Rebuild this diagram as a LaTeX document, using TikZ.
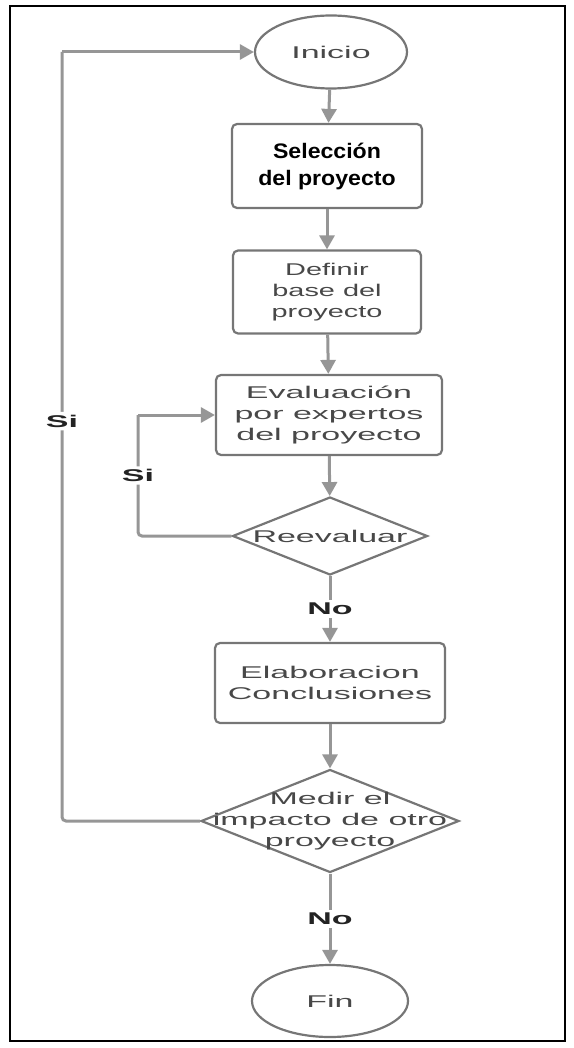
\documentclass[tikz,border=0pt]{standalone}
\usepackage{fontspec}
\setmainfont{Liberation Sans}
\newfontfamily\widesans[FakeStretch=2.0]{Liberation Sans}
\newfontfamily\midsans[FakeStretch=1.7]{Liberation Sans}
\newfontfamily\titlesans[FakeStretch=1.1]{Liberation Sans}
\usetikzlibrary{shapes.geometric,arrows.meta}
\definecolor{linegray}{RGB}{150,150,150}
\definecolor{edgegray}{RGB}{118,118,118}
\definecolor{txtgray}{RGB}{72,72,72}
\definecolor{lblgray}{RGB}{35,35,35}
\begin{document}
\begin{tikzpicture}[x=1pt,y=-1pt,
  every node/.style={font=\widesans\fontsize{17}{21}\selectfont, text=txtgray},
  terminal/.style={ellipse, draw=edgegray, line width=2.2pt, minimum width=152pt, minimum height=73pt, inner sep=0pt},
  process/.style={rectangle, rounded corners=5pt, draw=edgegray, line width=2.2pt, minimum width=190pt, minimum height=84pt, align=center, inner sep=0pt},
  decision/.style={diamond, draw=edgegray, line width=2.2pt, inner sep=0pt},
  flow/.style={draw=linegray, line width=3pt, -{Triangle[length=14pt,width=15pt]}},
  link/.style={draw=linegray, line width=3pt, rounded corners=4pt},
  lbl/.style={fill=white, text=lblgray, inner sep=3pt, font=\widesans\bfseries\fontsize{17}{21}\selectfont}
]
\useasboundingbox (0,0) rectangle (573,1048);
% outer frame
\draw[line width=2.2pt] (10,6) rectangle (565,1041);

% steps of the flow
\node[terminal] (inicio) at (331,52) {Inicio};
\node[process, minimum width=190pt, minimum height=84pt,
      font=\titlesans\bfseries\fontsize{21}{27}\selectfont, text=black] (seleccion) at (327,166) {Selección\\del proyecto};
\node[process, minimum width=188pt, minimum height=83pt,
      font=\midsans\fontsize{17}{21}\selectfont] (definir) at (327,292) {Definir\\base del\\proyecto};
\node[process, minimum width=226pt, minimum height=80pt] (evaluacion) at (329,415) {Evaluación\\por expertos\\del proyecto};
\node[decision, minimum width=195pt, minimum height=78pt] (reevaluar) at (330,536) {};
\node (reevaluartxt) at (reevaluar.center) {Reevaluar};
\node[process, minimum width=230pt, minimum height=80pt] (elaboracion) at (330,683) {Elaboracion\\Conclusiones};
\node[decision, minimum width=258pt, minimum height=103pt] (medir) at (330,821) {};
\node[align=center] (medirtxt) at (medir.center) {Medir el\\impacto de otro\\proyecto};
\node[terminal, minimum width=156pt, minimum height=72pt] (fin) at (330,1001) {Fin};

% main sequence
\draw[flow] (inicio) -- (seleccion);
\draw[flow] (seleccion) -- (definir);
\draw[flow] (definir) -- (evaluacion);
\draw[flow] (evaluacion) -- (reevaluar);
\draw[flow] (reevaluar) -- node[lbl] (no1) {No} (elaboracion);
\draw[flow] (elaboracion) -- (medir);
\draw[flow] (medir) -- node[lbl] (no2) {No} (fin);

% return loops
\coordinate (innerx) at (138,0);
\coordinate (outerx) at (62,0);
\draw[link] (reevaluar.west) -- (reevaluar.west -| innerx)
   -- node[lbl] (si1) {Si} (evaluacion.west -| innerx);
\draw[flow] (evaluacion.west -| innerx) -- (evaluacion.west);
\draw[link] (medir.west) -- (medir.west -| outerx)
   -- node[lbl, pos=0.52] (si2) {Si} (inicio.west -| outerx);
\draw[flow] (inicio.west -| outerx) -- (inicio.west);
\end{tikzpicture}
\end{document}
